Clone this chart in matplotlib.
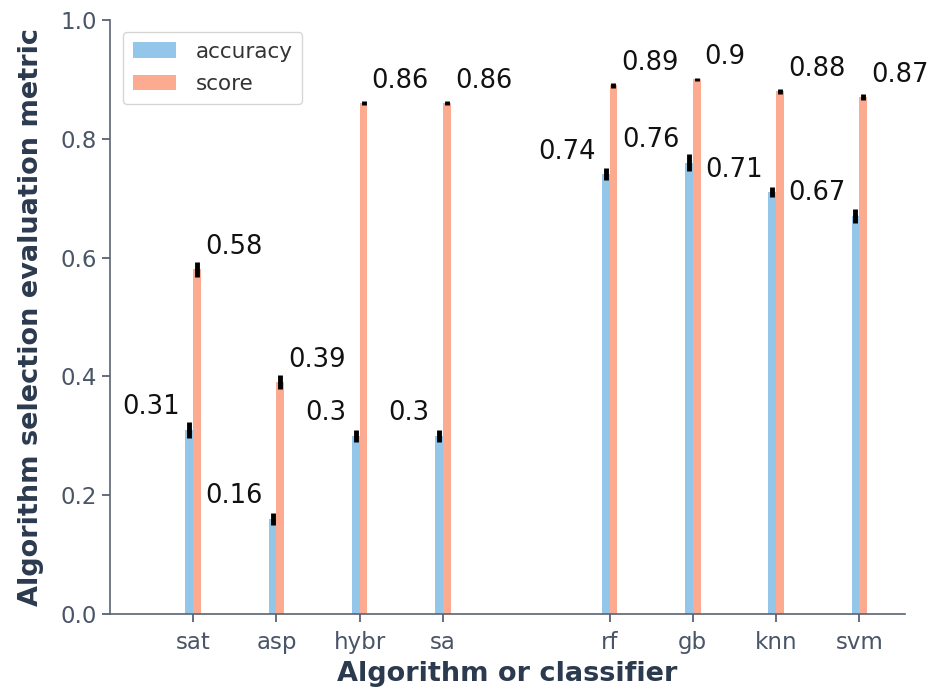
import numpy as np
import matplotlib
matplotlib.use('Agg')
import matplotlib.pyplot as plt

# Algorithm selection results: solvers vs classifiers
names = ['sat', 'asp', 'hybr', 'sa', 'rf', 'gb', 'knn', 'svm']
positions = [0, 1, 2, 3, 5, 6, 7, 8]
accuracy = [0.31, 0.16, 0.30, 0.30, 0.74, 0.76, 0.71, 0.67]
accuracy_err = [0.013, 0.010, 0.010, 0.010, 0.010, 0.014, 0.008, 0.012]
score = [0.58, 0.39, 0.86, 0.86, 0.89, 0.90, 0.88, 0.87]
score_err = [0.012, 0.012, 0.004, 0.003, 0.004, 0.003, 0.004, 0.005]

BLUE = '#93c6e9'
SALMON = '#fcaa90'
TEXT = '#2b3a4e'
TICK = '#4a5568'

fig = plt.figure(figsize=(9.53, 6.88), dpi=100)
ax = fig.add_axes([0.1154, 0.1076, 0.8343, 0.8634])

x = np.array(positions, dtype=float)
w = 0.093
ax.bar(x - w / 2, accuracy, w, color=BLUE, label='accuracy')
ax.bar(x + w / 2, score, w, color=SALMON, label='score')
ax.errorbar(x - w / 2, accuracy, yerr=accuracy_err, fmt='none', ecolor='black', elinewidth=3.5, capsize=0)
ax.errorbar(x + w / 2, score, yerr=score_err, fmt='none', ecolor='black', elinewidth=3.5, capsize=0)

for xi, a, s in zip(x, accuracy, score):
    ax.text(xi - w - 0.07, a + 0.038, f'{a:g}', ha='right', va='center', fontsize=18.5, color='#111111')
    ax.text(xi + w + 0.05, s + 0.038, f'{s:g}', ha='left', va='center', fontsize=18.5, color='#111111')

ax.set_xlim(-1.0, 8.55)
ax.set_ylim(0, 1.0)
ax.set_xticks(positions)
ax.set_xticklabels(names)
ax.set_yticks(np.arange(0, 1.01, 0.2))
ax.tick_params(axis='both', labelsize=16.5, colors=TICK, length=6, width=1.2)
ax.tick_params(axis='x', pad=6)

ax.spines['top'].set_visible(False)
ax.spines['right'].set_visible(False)
for side in ['left', 'bottom']:
    ax.spines[side].set_color('#5a6473')
    ax.spines[side].set_linewidth(1.2)

ax.set_xlabel('Algorithm or classifier', fontsize=19.5, fontweight='bold', color=TEXT, labelpad=5)
ax.set_ylabel('Algorithm selection evaluation metric', fontsize=19.5, fontweight='bold', color=TEXT, labelpad=12)

leg = ax.legend(loc='upper left', fontsize=15.5, frameon=True, handlelength=2.0, handleheight=0.7,
                borderpad=0.45, labelspacing=0.6, handletextpad=0.93, borderaxespad=0,
                bbox_to_anchor=(0.0164, 0.98))
leg.get_frame().set_edgecolor('#cccccc')
for t in leg.get_texts():
    t.set_color('#333333')

fig.savefig('out.png', dpi=100)
